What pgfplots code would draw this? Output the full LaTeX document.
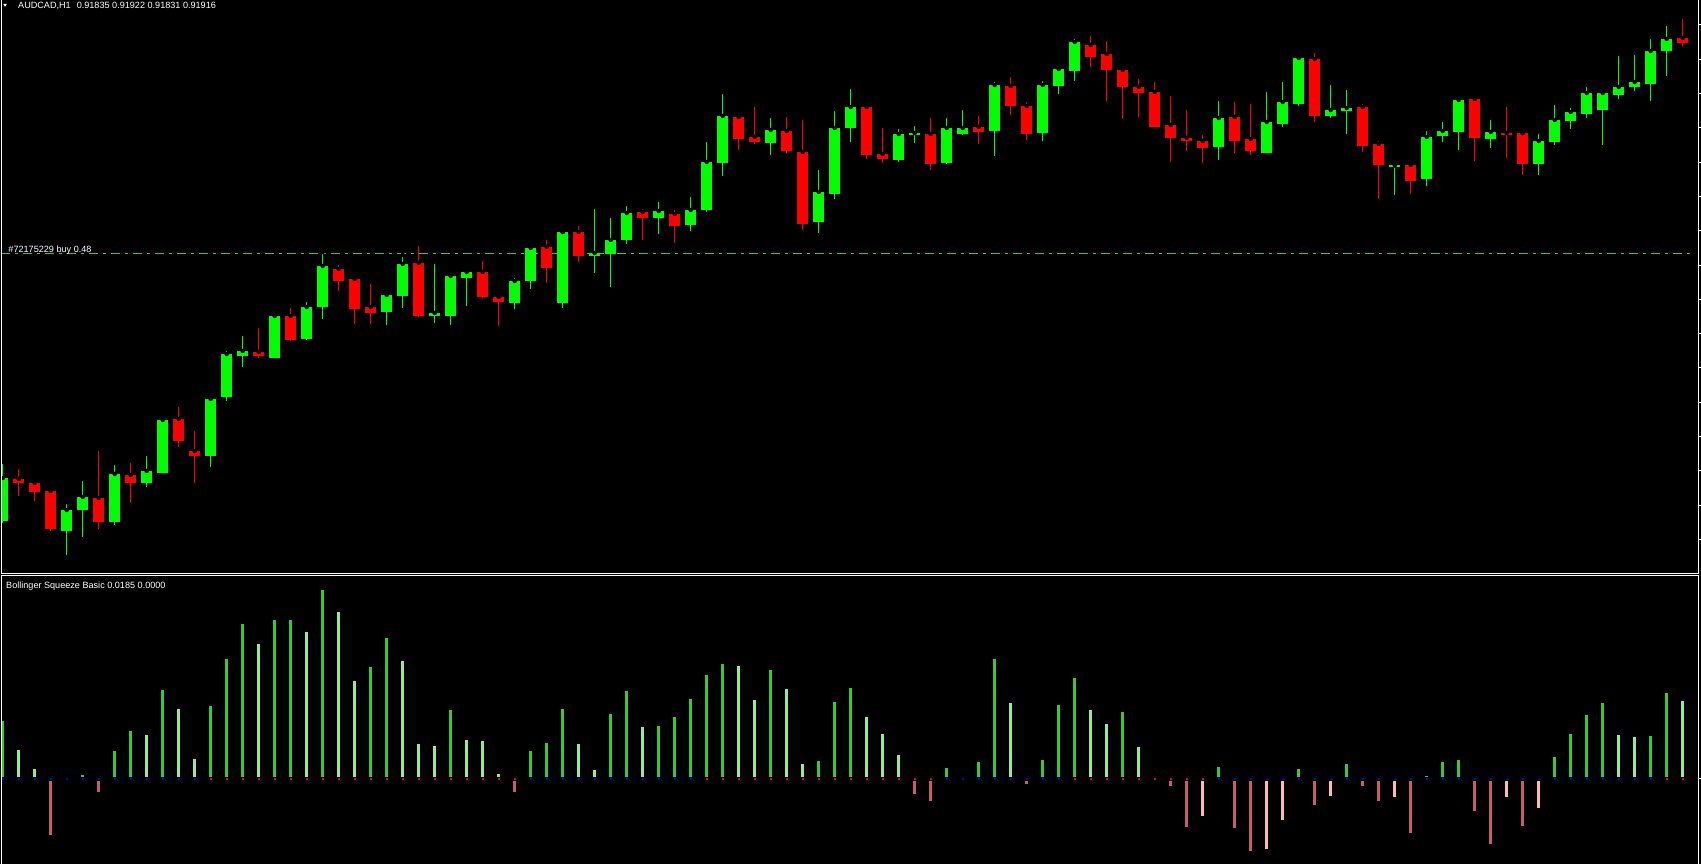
\documentclass[border=0pt]{standalone}
\usepackage{fontspec}
\setmainfont{Liberation Sans}
\usepackage{pgfplots}
\usepackage{pgfplotstable}
\pgfplotsset{compat=1.18}
\definecolor{cgreen}{HTML}{00FF00}
\definecolor{cred}{HTML}{FF0000}
\definecolor{hgreen}{HTML}{32CD32}
\definecolor{hlight}{HTML}{90EE90}
\definecolor{hred}{HTML}{CD5C5C}
\definecolor{hpink}{HTML}{FFB6C1}
\definecolor{dotblue}{HTML}{0000E6}
\definecolor{dotred}{HTML}{F00000}
\definecolor{dashgreen}{HTML}{32CD32}

% candles: index, body top, body bottom, high, low (pixel rows, downward)
\pgfplotstableread{
i top bot hi lo
0 478 520.7 462 522.7
4 510 530.7 502 554.7
5 497 509.7 479 536.7
7 474 521.7 463 524.7
9 471 482.7 454 486.7
10 420 472.7 417 472.7
13 399 455.7 398 466.7
14 354 396.7 349 400.7
15 351 355.7 334 366.7
17 316 357.7 315 357.7
19 307 339 300 340
20 266 307 252 319
24 295 312 292 325
25 264 296 255 308
27 313 316 262 323
28 276 316 272 325
29 272 278 271 306
32 281 303 276 309
33 248 281 244 289
35 232 303 232 308
37 253 256 207 273
38 240 254 216 287
39 213 240 204 244
41 211 217.7 200 234
43 210 224.7 195 230.7
44 162 209.7 140 211.7
45 116 162.7 92 175.7
48 130 142.7 116 154.7
51 192 221.7 168 232.7
52 128 193.7 109 198.7
53 107 127.7 87 141.7
56 134 159.7 127 161.7
57 133 134.7 124 142.7
59 128 162.7 116 163.7
60 128 133.7 108 134.7
62 85 130.7 80 155.7
65 85 132.7 79 140.7
66 69 85.7 67 93.7
67 42 70.7 37 80.7
76 118 146.7 99 159.7
79 122 152.7 90 152.7
80 102 123.7 80 126.7
81 58 103.7 55 105.7
83 110 115.7 83 117.7
84 108 110.7 88 133.7
87 165.5 167.3 162 194.7
89 137 178.7 129 185.7
90 131 135.7 120 141.7
91 100 131.7 99 149.7
93 132 138.7 118 147.7
96 141 163.7 132 174.7
97 120 141.7 103 144.7
98 112 120.7 106 128.7
99 93 113.7 85 117.7
100 93 109.7 92 144.7
101 87 94.7 54 98.7
102 82 86.7 53 90.7
103 51 83.7 37 100.7
104 39 50.7 24 75.7
}\greencandles

\pgfplotstableread{
i top bot hi lo
1 479 482.7 467 495.7
2 483 491.7 480 500.7
3 491 528.7 487 530.7
6 498 521.7 449 528.7
8 475 482.7 461 502.7
11 419 440.7 405 447.3
12 451 455.7 429 482.7
16 352 355.7 326 357.7
18 316 339.7 306 341
21 269 281 263 291
22 279 309 275 324
23 307 313 282 324
26 263 316 244 317
30 272 297 259 298
31 297 302 295 326
34 247 268 238 283
36 232 256 224 262
40 212 217.7 207 240
42 214 225.7 208 243
46 117 138.7 116 149.7
47 137 141.7 105 143.7
49 131 150.7 115 152.7
50 152 223.7 118 229.7
54 107 154.7 105 158.7
55 154 158.7 126 162.7
58 134 163.7 116 169.7
61 127 131.7 114 143.7
63 86 105.7 75 114.7
64 106 133.7 100 139.7
68 45 56.7 34 66.7
69 54 69.7 39 100.7
70 70 86.7 69 118.7
71 87 92.7 77 116.7
72 92 126.7 80 126.7
73 125 137.7 94 161.7
74 137.7 140.7 108 150.7
75 141 147.7 133 162.7
77 117 140.7 100 152.7
78 139 150.7 102 154.7
82 59 115.7 51 121.7
85 107 145.7 102 151.7
86 144 164.7 139 198.7
88 165 180.7 162 193.7
92 99 137.7 95 160.7
94 133 134.7 105 157.7
95 133 163.7 133 174.7
105 38 42.7 17 45.7
}\redcandles

% Bollinger Squeeze histogram
\pgfplotstableread{
i v
0 58.3
5 4.3
7 28.3
8 48.3
10 89.3
13 73.3
14 120.3
15 155.3
17 159.3
18 159.3
20 189.3
23 112.3
24 141.3
28 69.3
33 28.3
34 36.3
35 70.3
38 65.3
39 88.3
41 53.3
42 62.3
43 80.3
44 104.3
45 115.3
48 109.3
51 18.3
52 77.3
53 91.3
59 11.3
61 17.3
62 120.3
65 19.3
66 74.3
67 101.3
70 67.3
76 12.3
81 10.3
84 15.3
89 3.3
90 17.3
91 19.3
97 22.3
98 45.3
99 64.3
100 76.3
103 43.3
104 86.3
}\histG

\pgfplotstableread{
i v
1 29.3
2 10.3
9 44.3
11 70.3
12 20.3
16 135.3
19 147.3
21 167.3
22 98.3
25 118.3
26 35.3
27 33.3
29 39.3
30 38.3
31 5.3
36 35.3
37 9.3
40 52.3
46 113.3
47 79.3
49 90.3
50 15.3
54 62.3
55 45.3
56 24.3
60 2.3
63 76.3
68 69.3
69 55.3
71 32.3
72 2.3
101 44.3
102 42.3
105 78.3
}\histL

\pgfplotstableread{
i v
3 -56.3
6 -13.3
32 -13.3
57 -14.7
58 -21.7
64 -4.7
73 -6.7
74 -47.7
77 -48.7
78 -71.7
82 -25.7
85 -6.7
86 -21.7
88 -53.7
92 -31.7
93 -64.7
95 -46.7
}\histR

\pgfplotstableread{
i v
75 -36.7
79 -69.7
80 -40.7
83 -16.7
87 -17.7
94 -17.7
96 -28.7
}\histP

\pgfplotsset{
  panel/.style={
    scale only axis,
    width=1697pt,
    xmin=-0.10625, xmax=105.956,
    axis line style={draw=none},
    xtick=\empty,
    yticklabels={},
    ytick pos=right,
    tick align=outside,
    major tick length=3pt,
    tick style={white, line width=1pt},
    clip=true,
  },
  body/.style={only marks, mark=none, forget plot,
    error bars/.cd, y dir=plus, y explicit, error mark=none,
    error bar style={draw=#1, line width=10.7pt}},
  wick/.style={only marks, mark=none, forget plot,
    error bars/.cd, y dir=plus, y explicit, error mark=none,
    error bar style={draw=#1, line width=1pt}},
}

\begin{document}
\begin{tikzpicture}
\useasboundingbox (0,0) rectangle (1701pt,864pt);
\fill[black] (0,0) rectangle (1701pt,864pt);

% price panel
\begin{axis}[panel, at={(1pt,290pt)}, anchor=south west,
  height=574pt, ymin=0, ymax=574, y dir=reverse,
  ytick={25,59.3,93.6,127.9,162.2,196.5,230.8,265.1,299.4,333.7,368,402.3,436.6,470.9,505.2,539.5}]
  \addplot[draw=dashgreen, line width=1pt, dash pattern=on 9pt off 5pt on 3pt off 5pt]
    coordinates {(-0.1,254) (105.46,254)};
  \addplot[wick=cgreen] table[x=i, y=hi, y error plus expr=\thisrow{lo}-\thisrow{hi}] {\greencandles};
  \addplot[body=cgreen] table[x=i, y=top, y error plus expr=\thisrow{bot}-\thisrow{top}] {\greencandles};
  \addplot[wick=cred] table[x=i, y=hi, y error plus expr=\thisrow{lo}-\thisrow{hi}] {\redcandles};
  \addplot[body=cred] table[x=i, y=top, y error plus expr=\thisrow{bot}-\thisrow{top}] {\redcandles};
\end{axis}

% indicator panel
\begin{axis}[panel, at={(1pt,0pt)}, anchor=south west,
  height=288pt, ymin=-85, ymax=203, ytick={0}]
  \addplot[ycomb, draw=hgreen, line width=2.7pt, mark=none] table[x=i, y=v] {\histG};
  \addplot[ycomb, draw=hlight, line width=2.7pt, mark=none] table[x=i, y=v] {\histL};
  \addplot[ycomb, draw=hred, line width=2.7pt, mark=none] table[x=i, y=v] {\histR};
  \addplot[ycomb, draw=hpink, line width=2.7pt, mark=none] table[x=i, y=v] {\histP};
  \addplot[only marks, mark=square*, mark size=1.5pt, mark options={draw=none, fill=dotblue}]
    coordinates {(0,0)(1,0)(2,0)(3,0)(4,0)(5,0)(6,0)(7,0)(8,0)(9,0)(10,0)(11,0)(12,0)
    (33,0)(34,0)(35,0)(36,0)(37,0)(38,0)(39,0)(40,0)(41,0)(42,0)(43,0)
    (59,0)(60,0)(61,0)(62,0)(63,0)(64,0)(65,0)(66,0)
    (76,0)(77,0)(78,0)(79,0)(80,0)(81,0)(82,0)(83,0)(84,0)(85,0)(86,0)(87,0)(88,0)(89,0)
    (90,0)(91,0)(92,0)(93,0)(94,0)(95,0)(96,0)(97,0)(98,0)(99,0)(100,0)(101,0)(102,0)(103,0)};
  \addplot[only marks, mark=square*, mark size=1.5pt, mark options={draw=none, fill=dotred}]
    coordinates {(13,0)(14,0)(15,0)(16,0)(17,0)(18,0)(19,0)(20,0)(21,0)(22,0)(23,0)(24,0)
    (25,0)(26,0)(27,0)(28,0)(29,0)(30,0)(31,0)(32,0)
    (44,0)(45,0)(46,0)(47,0)(48,0)(49,0)(50,0)(51,0)(52,0)(53,0)(54,0)(55,0)(56,0)(57,0)(58,0)
    (67,0)(68,0)(69,0)(70,0)(71,0)(72,0)(73,0)(74,0)(75,0)(104,0)(105,0)};
\end{axis}

% frames
\draw[white, line width=1pt] (1pt,864pt) -- (1pt,290pt) -- (1698pt,290pt) -- (1698pt,864pt);
\draw[white, line width=1pt] (1pt,0pt) -- (1pt,288pt) -- (1698pt,288pt) -- (1698pt,0pt);

% texts
\fill[white] (3.3pt,860pt) -- (6.9pt,860pt) -- (5.1pt,857.2pt) -- cycle;
\node[anchor=base west, inner sep=0pt, text=white, font=\fontsize{9.1}{11}\selectfont]
  at (18pt,855.7pt) {AUDCAD,H1\hspace{6pt}0.91835 0.91922 0.91831 0.91916};
\node[anchor=base west, inner sep=0pt, text=white, font=\fontsize{9.1}{11}\selectfont]
  at (8.3pt,611.5pt) {\#72175229 buy 0.48};
\node[anchor=base west, inner sep=0pt, text=white, font=\fontsize{9.1}{11}\selectfont]
  at (6pt,275pt) {Bollinger Squeeze Basic 0.0185 0.0000};
\end{tikzpicture}
\end{document}
